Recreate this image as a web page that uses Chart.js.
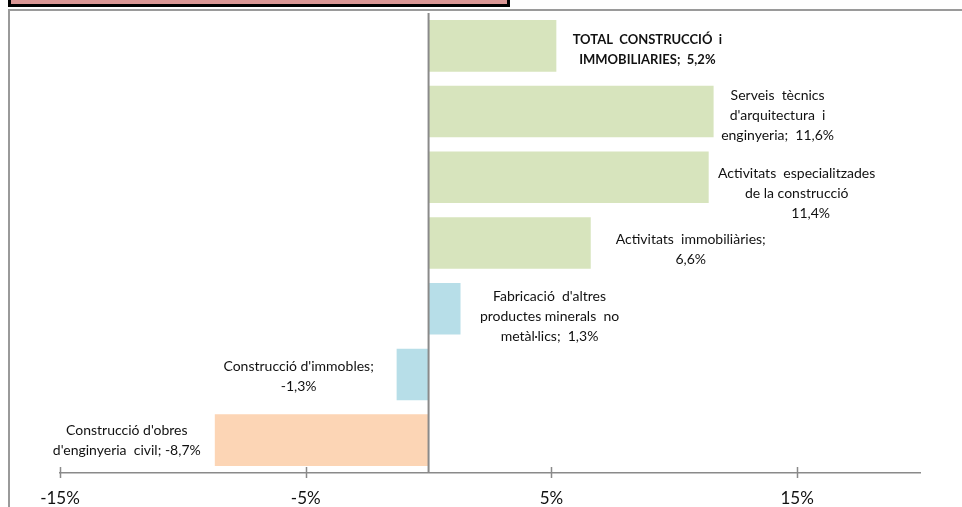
<!DOCTYPE html>
<html>
<head>
<meta charset="utf-8">
<script src="https://cdn.jsdelivr.net/npm/chart.js@4.4.1/dist/chart.umd.min.js"></script>
<style>
  html, body { margin: 0; padding: 0; background: #ffffff; overflow: hidden; }
  #wrap { position: relative; width: 962px; height: 507px; }
  #frame { position: absolute; left: 8px; top: 9px; width: 1000px; height: 600px;
           border-top: 2px solid #9a9a9a; border-left: 2px solid #9a9a9a; box-sizing: border-box; }
  #titlebox { position: absolute; left: 8px; top: -12px; width: 502px; height: 19px;
              background: #d99694; border: 3px solid #000; border-top: none; box-sizing: border-box; }
  canvas { position: absolute; left: 0; top: 0; }
</style>
</head>
<body>
<div id="wrap">
  <div id="frame"></div>
  <div id="titlebox"></div>
  <canvas id="c" width="962" height="507"></canvas>
</div>
<script>
// ---- data ----
const categories = [
  "TOTAL CONSTRUCCIÓ i IMMOBILIARIES",
  "Serveis tècnics d'arquitectura i enginyeria",
  "Activitats especialitzades de la construcció",
  "Activitats immobiliàries",
  "Fabricació d'altres productes minerals no metàl·lics",
  "Construcció d'immobles",
  "Construcció d'obres d'enginyeria civil"
];
const values = [5.2, 11.6, 11.4, 6.6, 1.3, -1.3, -8.7];
const labelLines = [
  ["TOTAL  CONSTRUCCIÓ  i", "IMMOBILIARIES;  {v}"],
  ["Serveis  tècnics", "d'arquitectura  i", "enginyeria;  {v}"],
  ["Activitats  especialitzades", "de la construcció", "{v}"],
  ["Activitats  immobiliàries;", "{v}"],
  ["Fabricació  d'altres", "productes minerals  no", "metàl·lics;  {v}"],
  ["Construcció d'immobles;", "{v}"],
  ["Construcció d'obres", "d'enginyeria  civil; {v}"]
];
const tickValues = [-15, -5, 5, 15];
const axisMin = -15;
const axisMax = 20;

// ---- styles ----
const GREEN = '#d7e4bd', BLUE = '#b7dee8', PEACH = '#fcd5b5';
const barColors = [GREEN, GREEN, GREEN, GREEN, BLUE, BLUE, PEACH];
const labelOffsets = [[91, 4], [64, 4], [88, 16], [100, 6], [89, 8], [-98, 2], [-88, 0]];
// extra horizontal shift of individual label lines [label index, line index, dx]
const lineShifts = [[2, 2, 14]];
const boldLabels = [true, false, false, false, false, false, false];
const AXIS_GRAY = '#8a8a8a';

function fmt(v) { return v.toFixed(1).replace('.', ',') + '%'; }

const decorPlugin = {
  id: 'decor',
  afterDatasetsDraw(chart) {
    const ctx = chart.ctx;
    const xs = chart.scales.x;
    const area = chart.chartArea;
    ctx.save();
    // zero (category) axis line
    const x0 = xs.getPixelForValue(0);
    ctx.strokeStyle = AXIS_GRAY;
    ctx.lineWidth = 2;
    ctx.beginPath();
    ctx.moveTo(x0, area.top);
    ctx.lineTo(x0, area.bottom);
    ctx.stroke();
    // tick marks crossing the value axis
    ctx.lineWidth = 1.5;
    tickValues.forEach(v => {
      const px = Math.round(xs.getPixelForValue(v)) + 0.5;
      ctx.beginPath();
      ctx.moveTo(px, area.bottom - 6);
      ctx.lineTo(px, area.bottom + 5);
      ctx.stroke();
    });
    // data labels
    const meta = chart.getDatasetMeta(0);
    ctx.fillStyle = '#111111';
    ctx.textAlign = 'center';
    ctx.textBaseline = 'middle';
    const lh = 20;
    meta.data.forEach((bar, i) => {
      const lines = labelLines[i].map(s => s.replace('{v}', fmt(values[i])));
      ctx.font = (boldLabels[i] ? 'bold 13px' : '14px') + ' Lato, "Noto Sans", sans-serif';
      const cx = bar.x + labelOffsets[i][0];
      const cy = bar.y + labelOffsets[i][1];
      const startY = cy - (lines.length - 1) * lh / 2;
      lines.forEach((t, k) => {
        const s = lineShifts.find(e => e[0] === i && e[1] === k);
        ctx.fillText(t, cx + (s ? s[2] : 0), startY + k * lh);
      });
    });
    ctx.restore();
  }
};

new Chart(document.getElementById('c'), {
  type: 'bar',
  data: {
    labels: categories,
    datasets: [{
      data: values,
      backgroundColor: barColors,
      borderWidth: 0,
      barPercentage: 0.785,
      categoryPercentage: 1.0
    }]
  },
  options: {
    indexAxis: 'y',
    responsive: false,
    animation: false,
    devicePixelRatio: 1,
    layout: { padding: { left: 60, right: 42, top: 13, bottom: 0 } },
    plugins: { legend: { display: false }, tooltip: { enabled: false }, title: { display: false } },
    scales: {
      y: { display: false },
      x: {
        min: axisMin,
        max: axisMax,
        afterBuildTicks(scale) { scale.ticks = tickValues.map(v => ({ value: v })); },
        afterFit(scale) { scale.height = 34; },
        grid: { display: true, drawOnChartArea: false, drawTicks: false },
        border: { display: true, color: AXIS_GRAY, width: 1.5 },
        ticks: {
          padding: 15,
          maxRotation: 0,
          autoSkip: false,
          color: '#111111',
          font: { family: 'Lato, "Noto Sans", sans-serif', size: 17 },
          callback: (v) => v + '%'
        }
      }
    }
  },
  plugins: [decorPlugin]
});
</script>
</body>
</html>
